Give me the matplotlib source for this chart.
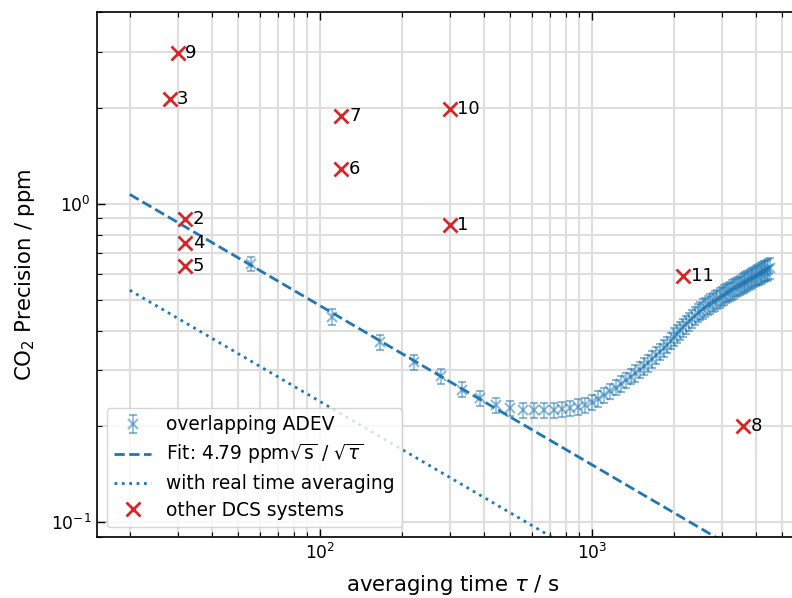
import numpy as np
import matplotlib.pyplot as plt

# overlapping Allan deviation of the CO2 retrieval, one point per 55.6 s block
TAU_STEP = 55.6
adev = [
    0.647, 0.442, 0.367, 0.318, 0.287, 0.261, 0.245, 0.233, 0.228, 0.2245,
    0.2245, 0.2245, 0.225, 0.2262, 0.2282, 0.2302, 0.2335, 0.238, 0.244, 0.2505,
    0.2578, 0.2648, 0.272, 0.2795, 0.2868, 0.294, 0.301, 0.3085, 0.316, 0.3255,
    0.334, 0.343, 0.352, 0.361, 0.371, 0.382, 0.3912, 0.4003, 0.4092, 0.4182,
    0.4271, 0.4359, 0.4448, 0.4535, 0.462, 0.4681, 0.4739, 0.4797, 0.4853, 0.491,
    0.4967, 0.5022, 0.5077, 0.513, 0.5181, 0.5231, 0.5279, 0.5327, 0.5374, 0.5422,
    0.547, 0.5516, 0.556, 0.5607, 0.5651, 0.5696, 0.5738, 0.5782, 0.5825, 0.5868,
    0.591, 0.595, 0.599, 0.6027, 0.6064, 0.6102, 0.6138, 0.6175, 0.621, 0.6246,
    0.6283,
]
# relative 1-sigma uncertainty of each ADEV point
adev_rel_err = [
    0.050, 0.055, 0.055, 0.055, 0.055, 0.055, 0.055, 0.055, 0.055, 0.055,
    0.055, 0.055, 0.055, 0.055, 0.055, 0.055, 0.055, 0.055, 0.055, 0.055,
    0.055, 0.055, 0.055, 0.055, 0.055, 0.060, 0.060, 0.060, 0.060, 0.060,
    0.060, 0.060, 0.060, 0.060, 0.060, 0.065, 0.065, 0.065, 0.065, 0.065,
    0.065, 0.065, 0.065, 0.065, 0.065, 0.070, 0.070, 0.070, 0.070, 0.070,
    0.070, 0.070, 0.070, 0.070, 0.070, 0.070, 0.070, 0.070, 0.070, 0.070,
    0.070, 0.070, 0.070, 0.070, 0.070, 0.075, 0.075, 0.075, 0.075, 0.075,
    0.075, 0.075, 0.075, 0.075, 0.075, 0.075, 0.075, 0.075, 0.075, 0.075,
    0.075,
]

# white-noise fit sigma = A / sqrt(tau)
FIT_A = 4.79          # ppm sqrt(s)
RT_FACTOR = 0.5       # gain from real time averaging
fit_tau = [20, 5000]

# precision reported for other dual-comb systems
dcs_tau = [300, 32, 28, 32, 32, 120, 120, 3600, 30, 300, 2160]
dcs_prec = [0.857, 0.895, 2.14, 0.755, 0.636, 1.29, 1.89, 0.20, 2.97, 1.98, 0.595]
dcs_labels = ["1", "2", "3", "4", "5", "6", "7", "8", "9", "10", "11"]

adev = np.array(adev)
tau = TAU_STEP * np.arange(1, len(adev) + 1)
yerr = adev * np.array(adev_rel_err)
fit_tau = np.array(fit_tau, dtype=float)
fit = FIT_A / np.sqrt(fit_tau)

fig = plt.figure(figsize=(7.92, 5.98), dpi=100)
ax = fig.add_axes([0.1229, 0.1025, 0.899, 0.877])

h_adev = ax.errorbar(tau, adev, yerr=yerr, fmt="x", color="tab:blue", alpha=0.5,
                     ms=7, mew=1.5, capsize=3.2, elinewidth=1.2, capthick=1.2,
                     label="overlapping ADEV")
h_fit, = ax.plot(fit_tau, fit, "--", color="tab:blue", lw=2,
                 label=r"Fit: 4.79 ppm$\sqrt{\mathrm{s}}$ / $\sqrt{\tau}$")
h_rt, = ax.plot(fit_tau, RT_FACTOR * fit, ":", color="tab:blue", lw=2,
                label="with real time averaging")
h_dcs, = ax.plot(dcs_tau, dcs_prec, "x", color="tab:red", ms=9.5, mew=2,
                 label="other DCS systems")
for t, p, lab in zip(dcs_tau, dcs_prec, dcs_labels):
    ax.annotate(lab, (t, p), xytext=(5.5, 0), textcoords="offset points",
                ha="left", va="center", fontsize=13)

ax.set_xscale("log")
ax.set_yscale("log")
ax.set_xlim(15.2, 6300)
ax.set_ylim(0.09, 4)

ax.grid(True, which="both", color="0.87", lw=1.5)
ax.set_axisbelow(True)
ax.tick_params(which="both", direction="in", top=True, right=True,
               labelsize=12.3, pad=4.5)
ax.tick_params(which="major", length=6, width=1)
ax.tick_params(which="minor", length=3.5, width=0.8)
for sp in ax.spines.values():
    sp.set_linewidth(1.2)

ax.set_xlabel(r"averaging time $\tau$ / s", fontsize=15.3, labelpad=7)
ax.set_ylabel(r"CO$_2$ Precision / ppm", fontsize=15.3, labelpad=10)
ax.legend([h_adev, h_fit, h_rt, h_dcs],
          [h.get_label() for h in (h_adev, h_fit, h_rt, h_dcs)],
          loc="lower left", fontsize=13.4, labelspacing=0.42)

fig.savefig("out.png", dpi=100)
